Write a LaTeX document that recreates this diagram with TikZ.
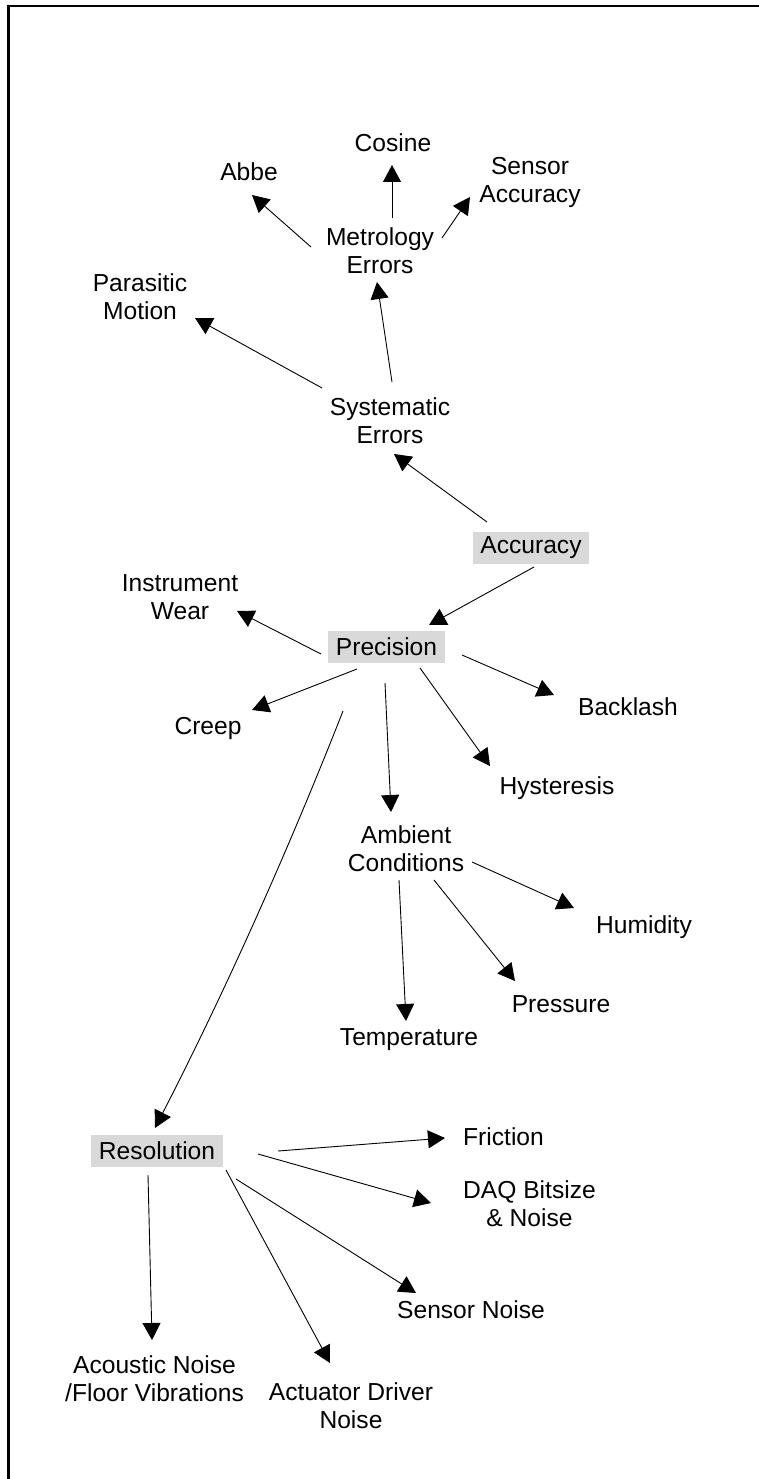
\documentclass[tikz,border=0pt]{standalone}
\usepackage{fontspec}
\setmainfont{Liberation Sans}
\usetikzlibrary{arrows.meta}
\definecolor{boxgray}{RGB}{217,217,217}
\begin{document}
\begin{tikzpicture}[x=1pt,y=-1pt,
  lbl/.style={anchor=north, inner sep=0pt, align=center,
              font=\fontsize{24.6}{28.3}\selectfont},
  hl/.style={fill=boxgray, inner xsep=7.5pt, inner ysep=0pt,
             minimum height=32pt, font=\fontsize{24.6}{28.3}\selectfont},
  arr/.style={-{Triangle[length=17pt,width=18pt]}, line width=0.9pt},
  frameline/.style={line width=2.5pt}]
\useasboundingbox (0,0) rectangle (759,1479);
\clip (0,0) rectangle (759,1479);

% page frame (only the left and top edges fall inside the page)
\draw[frameline] (8.5,1500) -- (8.5,6) -- (780,6);

% labels
\node[lbl] (cos)    at (393,133)   {Cosine};
\node[lbl] (abbe)   at (249,162)   {Abbe};
\node[lbl] (sacc)   at (530,157)   {Sensor\\Accuracy};
\node[lbl] (met)    at (380,227)   {Metrology\\Errors};
\node[lbl] (par)    at (140,273)   {Parasitic\\Motion};
\node[lbl] (sys)    at (390,397)   {Systematic\\Errors};
\node[hl]  (acc)    at (531,548)   {Accuracy};
\node[lbl] (iw)     at (180,574)   {Instrument\\Wear};
\node[hl]  (prec)   at (386.5,647) {Precision};
\node[lbl] (creep)  at (208,717)   {Creep};
\node[lbl] (back)   at (628,697)   {Backlash};
\node[lbl] (hyst)   at (557,776)   {Hysteresis};
\node[lbl] (amb)    at (406,825)   {Ambient\\Conditions};
\node[lbl] (hum)    at (644,915)   {Humidity};
\node[lbl] (pres)   at (561,995)   {Pressure};
\node[lbl] (temp)   at (409,1028)  {Temperature};
\node[hl]  (res)    at (157,1151)  {Resolution};
\node[lbl] (fric)   at (503.5,1127) {Friction};
\node[lbl] (daq)    at (529.5,1180) {DAQ Bitsize\\\& Noise};
\node[lbl] (snoise) at (471,1300)  {Sensor Noise};
\node[lbl] (acou)   at (154.5,1355) {Acoustic Noise\\/Floor Vibrations};
\node[lbl] (actu)   at (351,1382)  {Actuator Driver\\Noise};

% metrology errors
\draw[arr] ([shift={(12,-9)}]met.north)  -- ([shift={(-1,32)}]cos.north);
\draw[arr] ([shift={(-69,20)}]met.north) -- ([shift={(3,33)}]abbe.north);
\draw[arr] ([shift={(62,11)}]met.north)  -- ([shift={(-60,40)}]sacc.north);
% systematic errors
\draw[arr] ([shift={(2,-15)}]sys.north)  -- ([shift={(-3,55)}]met.north);
\draw[arr] ([shift={(-68,-9)}]sys.north) -- ([shift={(55,45)}]par.north);
% accuracy
\draw[arr] ([shift={(-44,-26)}]acc.center) -- ([shift={(4,57)}]sys.north);
\draw[arr] ([shift={(3,19)}]acc.center)    -- ([shift={(42.5,-22)}]prec.center);
% precision
\draw[arr] ([shift={(-65.5,7)}]prec.center)  -- ([shift={(57,37)}]iw.north);
\draw[arr] ([shift={(-29.5,22)}]prec.center) -- ([shift={(44,-7)}]creep.north);
\draw[arr] ([shift={(75.5,8)}]prec.center)   -- ([shift={(-74,-2)}]back.north);
\draw[arr] ([shift={(33.5,21)}]prec.center)  -- ([shift={(-67,-10)}]hyst.north);
\draw[arr] ([shift={(-1.5,36)}]prec.center)  -- ([shift={(-15,-13)}]amb.north);
\draw[arr] ([shift={(-43.5,64)}]prec.center)
     .. controls (287.6,852) and (225,991.6) .. ([shift={(-2,-23)}]res.center);
% ambient conditions
\draw[arr] ([shift={(66,37)}]amb.north) -- ([shift={(-70,-7)}]hum.north);
\draw[arr] ([shift={(28,55)}]amb.north) -- ([shift={(-46,-14)}]pres.north);
\draw[arr] ([shift={(-7,55)}]amb.north) -- ([shift={(-3,-7)}]temp.north);
% resolution
\draw[arr] ([shift={(121,0)}]res.center) -- ([shift={(-58.5,11)}]fric.north);
\draw[arr] ([shift={(101,3)}]res.center) -- ([shift={(-98.5,23)}]daq.north);
\draw[arr] ([shift={(79,28)}]res.center) -- ([shift={(-55,-7)}]snoise.north);
\draw[arr] ([shift={(69,19)}]res.center) -- ([shift={(-21,-19)}]actu.north);
\draw[arr] ([shift={(-9,24)}]res.center) -- ([shift={(-2.5,-15)}]acou.north);
\end{tikzpicture}
\end{document}
